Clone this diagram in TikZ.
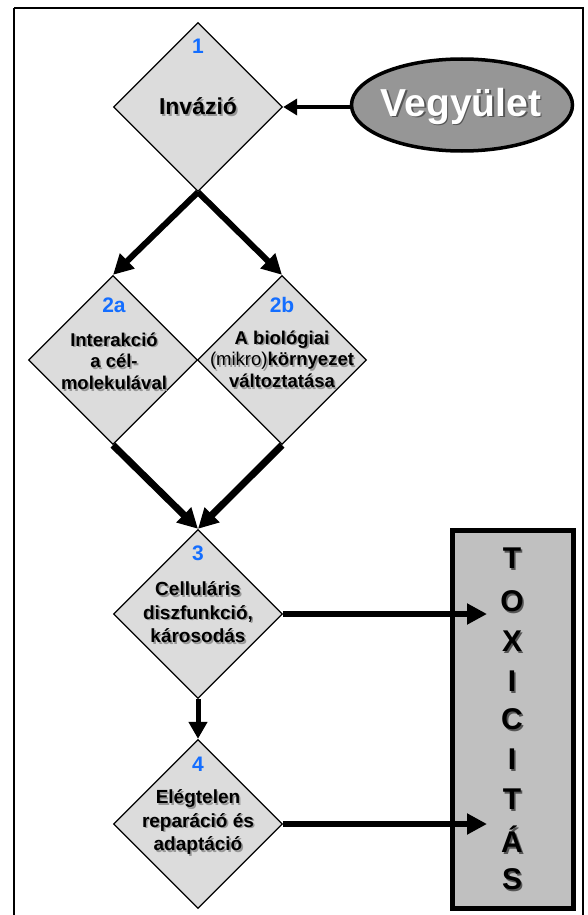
\documentclass[tikz,border=0pt]{standalone}
\usepackage{fontspec}
\setmainfont{Liberation Sans}
\usetikzlibrary{shapes.geometric,arrows.meta}
\definecolor{dfill}{RGB}{220,220,220}
\definecolor{efill}{RGB}{150,150,150}
\definecolor{bfill}{RGB}{192,192,192}
\definecolor{numblue}{RGB}{20,110,255}
\definecolor{shadelt}{RGB}{150,150,150}
\definecolor{shadedk}{RGB}{85,85,85}
% a line of text with a drop shadow behind it, in the same text
\newcommand\shd[2][shadelt]{\leavevmode\rlap{\kern1.6pt\raisebox{-1.6pt}{\textcolor{#1}{#2}}}#2}
\begin{document}
\begin{tikzpicture}[x=1pt,y=-1pt,
  dia/.style={diamond,draw=black,line width=1.3pt,fill=dfill,aspect=1,
    minimum width=169pt,minimum height=169pt,inner sep=0pt},
  lbl/.style={font=\bfseries\fontsize{19}{23.5}\selectfont,align=center,inner sep=0pt},
  lblsm/.style={font=\bfseries\fontsize{18.5}{21.7}\selectfont,align=center,inner sep=0pt},
  num/.style={font=\bfseries\fontsize{21}{24}\selectfont,text=numblue,inner sep=0pt},
  letter/.style={font=\bfseries\fontsize{30}{32}\selectfont,inner sep=0pt},
  arr/.style={-{Triangle[length=20pt,width=20pt]},line width=6pt}
]
\useasboundingbox (0,0) rectangle (587,915);
% outer frame
\draw[line width=1.3pt] (14,8) -- (583,8) -- (583,925) (14,8) -- (14,925);

% diamonds
\node[dia] (d1) at (198,107) {};
\node[dia] (d2a) at (113,360) {};
\node[dia] (d2b) at (282,360) {};
\node[dia] (d3) at (198,614) {};
\node[dia] (d4) at (198,824) {};

% compound ellipse
\node[ellipse,draw=black,line width=3.5pt,fill=efill,minimum width=221pt,minimum height=92pt,inner sep=0pt] (veg) at (462,105) {};
\node[font=\bfseries\fontsize{39}{41}\selectfont,text=white,inner sep=0pt] (vegt) at (461,107) {\shd[shadedk]{Vegyület}};

% toxicity box
\node[draw=black,line width=5pt,fill=bfill,minimum width=121pt,minimum height=378pt,inner sep=0pt] (box) at (512.5,719) {};
\foreach \l/\y [count=\i] in {T/559,O/602,X/642,I/682,C/720,I/760,T/800,Á/840,S/880}
  \node[letter] (L\i) at (512,\y) {\shd[shadedk]{\l}};

% texts
\node[num] (n1) at (198,46) {1};
\node[font=\bfseries\fontsize{23}{26}\selectfont,inner sep=0pt] (t1) at (198,107) {\shd{Invázió}};
\node[num] (n2a) at (114,305) {2a};
\node[num] (n2b) at (282,305) {2b};
\node[lblsm] (t2a) at (114,362) {\shd{Interakció}\\\shd{a cél-}\\\shd{molekulával}};
\node[lblsm] (t2b) at (282,360) {\shd{A biológiai}\\\shd{{\mdseries(mikro)}környezet}\\\shd{változtatása}};
\node[num] (n3) at (198,553) {3};
\node[lbl] (t3) at (198,613) {\shd{Celluláris}\\\shd{diszfunkció,}\\\shd{károsodás}};
\node[num] (n4) at (198,764) {4};
\node[lbl] (t4) at (198,823) {\shd{Elégtelen}\\\shd{reparáció és}\\\shd{adaptáció}};

% connector end points inside the box
\coordinate (e3) at (487,614);
\coordinate (e4) at (487,824);

% connectors
\draw[-{Triangle[length=14pt,width=16pt]},line width=4pt] (veg.west |- d1.east) -- (d1.east);
\draw[arr] (d1.south) -- (d2a.north);
\draw[arr] (d1.south) -- (d2b.north);
\draw[arr,line width=7pt] (d2a.south) -- (d3.north);
\draw[arr,line width=7pt] (d2b.south) -- (d3.north);
\draw[-{Triangle[length=17pt,width=18pt]},line width=5pt] (d3.south) -- (d4.north);
\draw[arr] (d3.east) -- (e3);
\draw[arr] (d4.east) -- (e4);
\end{tikzpicture}
\end{document}
